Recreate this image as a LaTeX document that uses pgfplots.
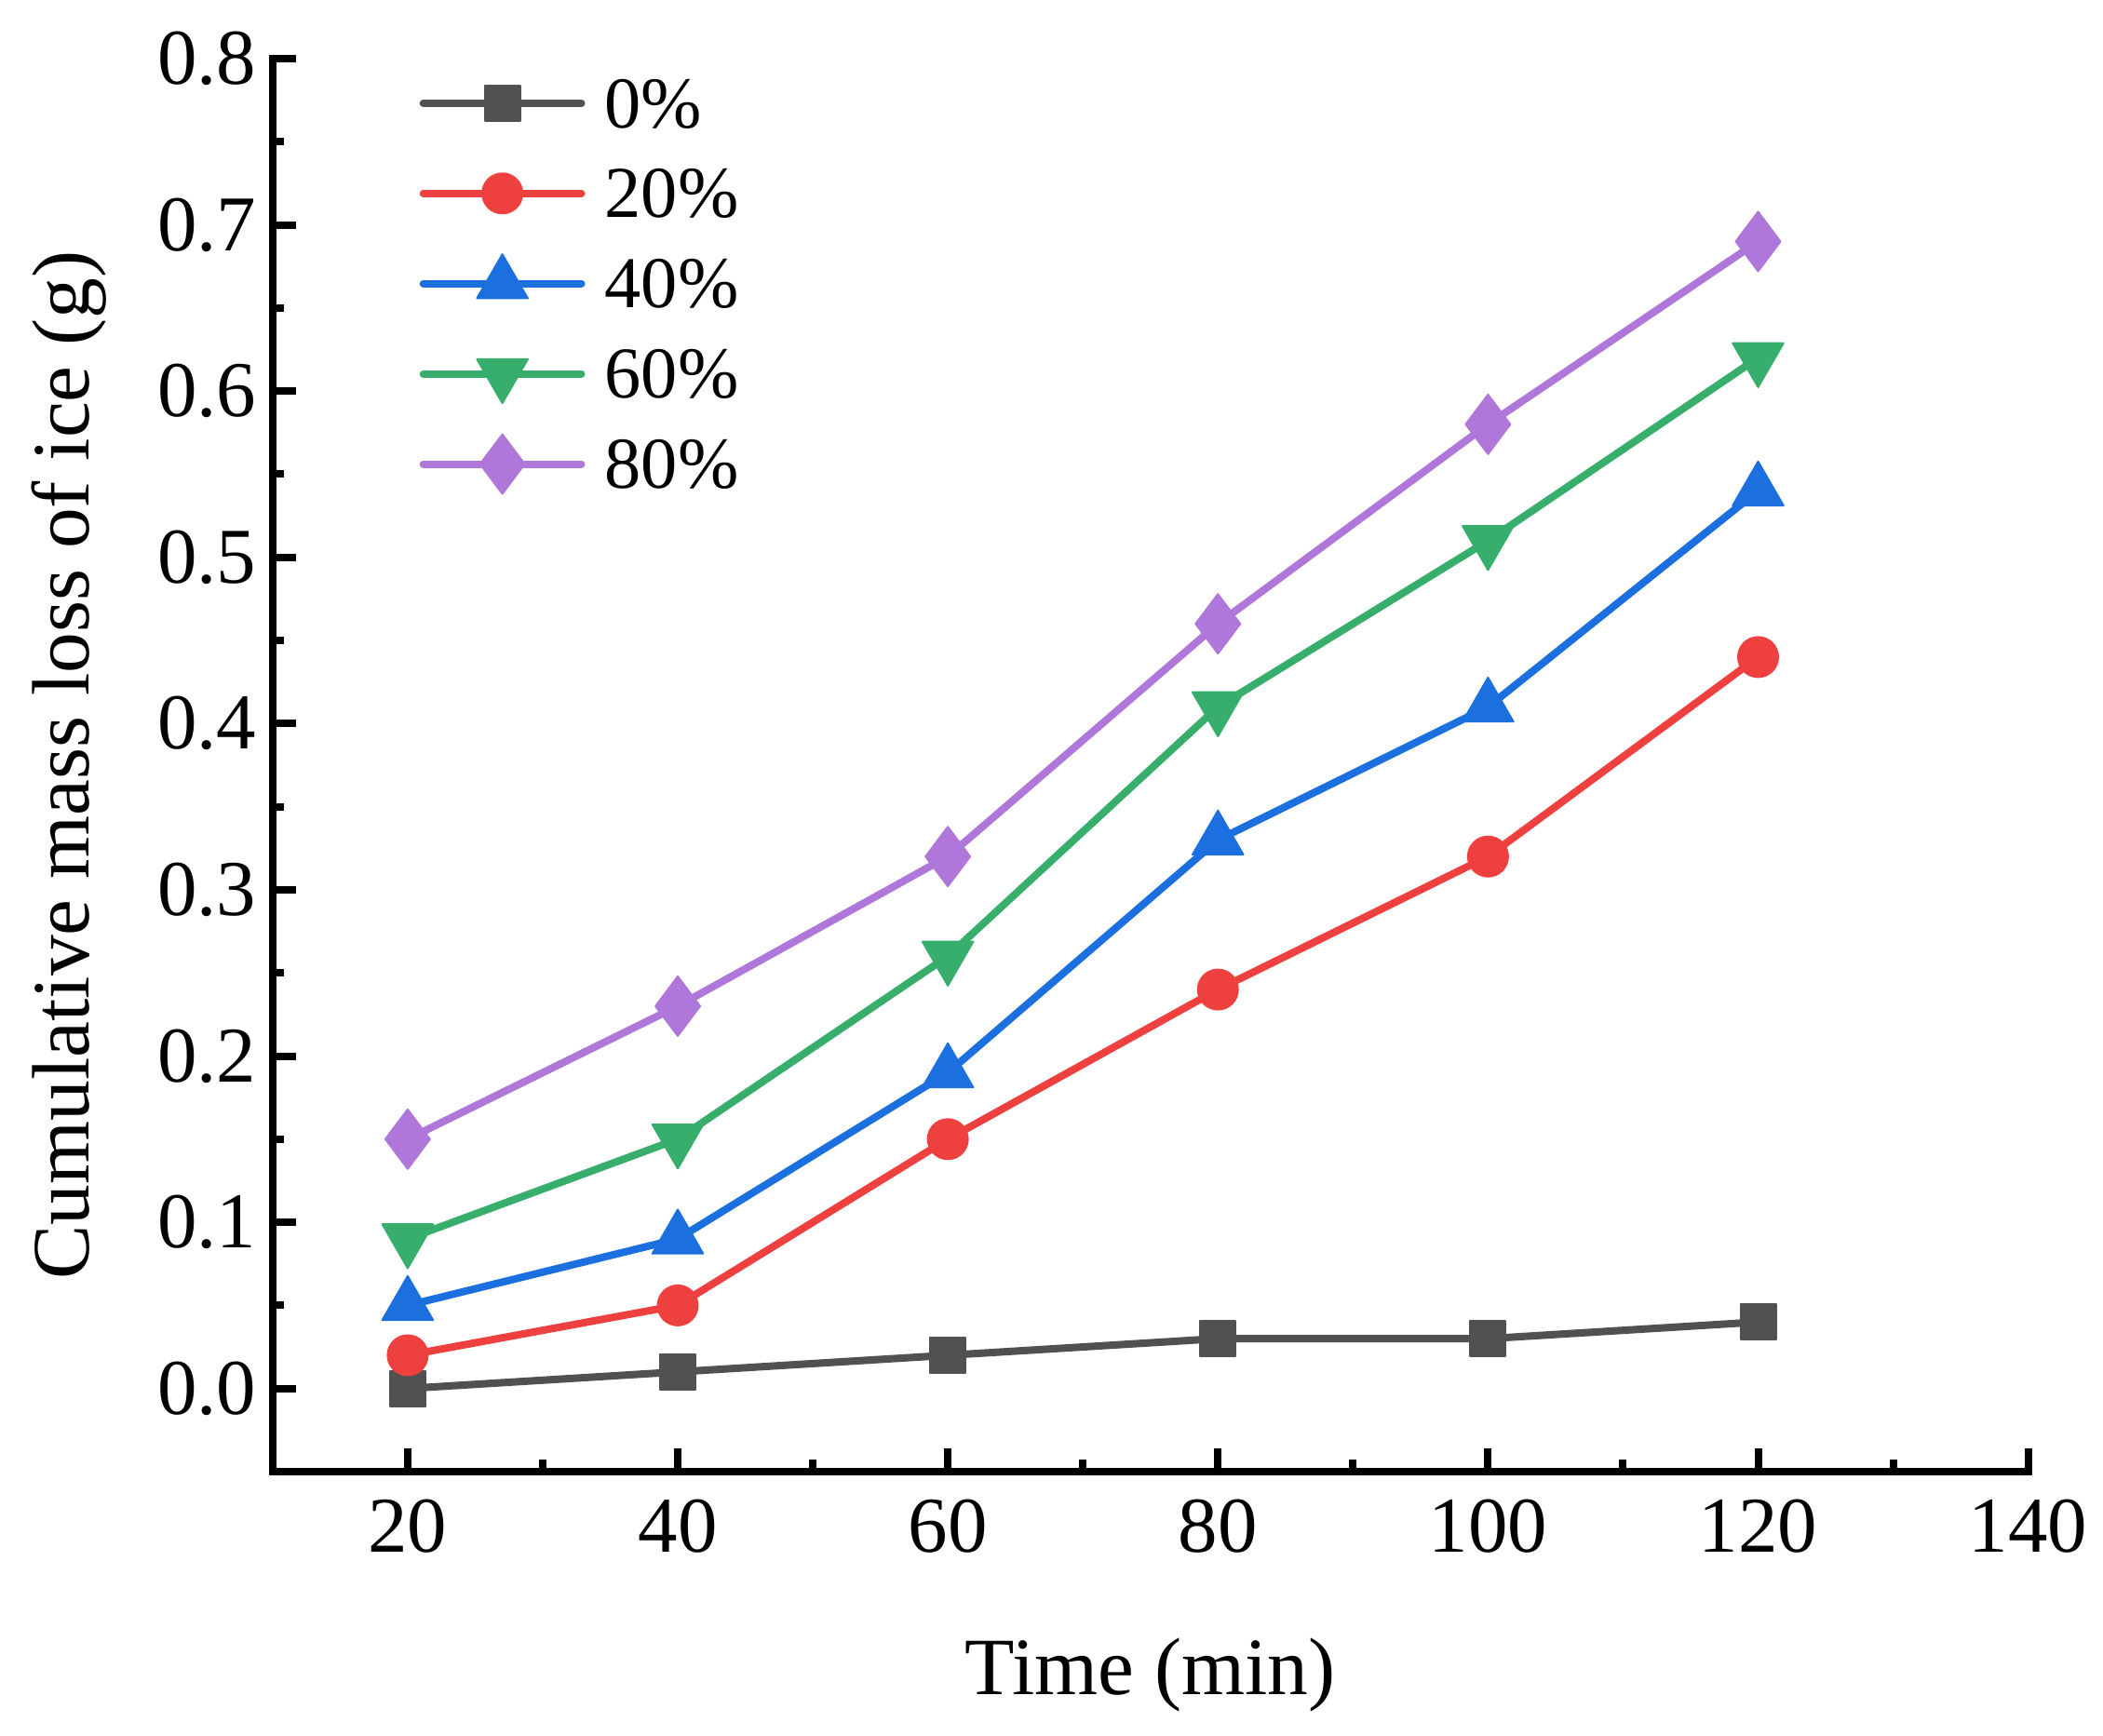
\documentclass[border=0pt]{standalone}
\usepackage{fontspec}
\setmainfont{Liberation Serif}
\usepackage{pgfplots}
\pgfplotsset{compat=1.18}
\definecolor{cA}{HTML}{515151}
\definecolor{cB}{HTML}{EF4040}
\definecolor{cC}{HTML}{1B6FDF}
\definecolor{cD}{HTML}{37AE6B}
\definecolor{cE}{HTML}{B077DB}
\begin{document}
\begin{tikzpicture}
\begin{axis}[
  scale only axis, width=377.4pt, height=303.8pt,
  xmin=10, xmax=140, ymin=-0.05, ymax=0.8,
  axis x line*=bottom, axis y line*=left,
  axis line style={-, line width=1.6pt, line cap=rect, black},
  xtick={20,40,60,80,100,120,140},
  ytick={0,0.1,0.2,0.3,0.4,0.5,0.6,0.7,0.8},
  minor x tick num=1, minor y tick num=1,
  tick align=inside,
  major tick length=5pt, minor tick length=2.5pt,
  major tick style={line width=1.6pt, black},
  minor tick style={line width=1.6pt, black},
  /pgf/number format/assume math mode=true,
  yticklabel style={/pgf/number format/.cd, fixed, fixed zerofill, precision=1},
  xticklabel style={yshift=-2.5pt},
  tick label style={font=\fontsize{17}{20}\selectfont},
  xlabel={Time (min)}, ylabel={Cumulative mass loss of ice (g)},
  label style={font=\fontsize{17.5}{21}\selectfont},
  xlabel style={at={(rel axis cs:0.5,-0.144)}, anchor=center},
  ylabel style={at={(rel axis cs:-0.116,0.5)}, anchor=center},
  clip=false,
  legend cell align=left,
  legend style={at={(rel axis cs:0.0837,0.994)}, anchor=north west, draw=none, fill=none,
    inner sep=0pt, outer sep=0pt, row sep=3.9pt, column sep=4.2pt,
    font=\fontsize{15.7}{18}\selectfont,
    nodes={inner sep=0pt, text height=13pt, text depth=2.5pt}},
  legend image code/.code={\draw[mark repeat=2,mark phase=2] plot coordinates {(0pt,0pt) (17pt,0pt) (34pt,0pt)};},
  every axis plot/.append style={line width=1.6pt, line cap=round, line join=round},
]
\addplot[color=cA, mark=square*, mark size=3.8pt, mark options={line width=0.4pt}] coordinates {(20,0) (40,0.01) (60,0.02) (80,0.03) (100,0.03) (120,0.04)};
\addlegendentry{0\%}
\addplot[color=cB, mark=*, mark size=4.3pt, mark options={line width=0.4pt}] coordinates {(20,0.02) (40,0.05) (60,0.15) (80,0.24) (100,0.32) (120,0.44)};
\addlegendentry{20\%}
\addplot[color=cC, mark=triangle*, mark size=6.3pt, mark options={line width=0.4pt}] coordinates {(20,0.05) (40,0.09) (60,0.19) (80,0.33) (100,0.41) (120,0.54)};
\addlegendentry{40\%}
\addplot[color=cD, mark=triangle*, mark size=6.3pt, mark options={line width=0.4pt, rotate=180}] coordinates {(20,0.09) (40,0.15) (60,0.26) (80,0.41) (100,0.51) (120,0.62)};
\addlegendentry{60\%}
\addplot[color=cE, mark=diamond*, mark size=6.4pt, mark options={line width=0.4pt}] coordinates {(20,0.15) (40,0.23) (60,0.32) (80,0.46) (100,0.58) (120,0.69)};
\addlegendentry{80\%}
\path (rel axis cs:-0.1553,-0.187) rectangle (rel axis cs:1.0419,1.0415);
\end{axis}
\end{tikzpicture}
\end{document}
